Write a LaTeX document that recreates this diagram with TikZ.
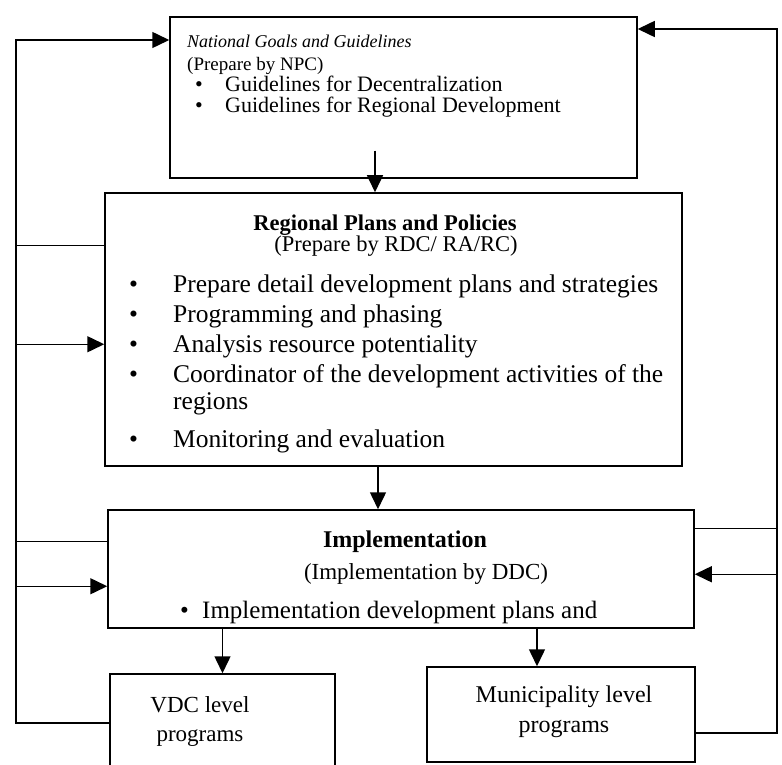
\documentclass[tikz,border=0pt]{standalone}
\usepackage{fontspec}
\setmainfont{Liberation Serif}
\usetikzlibrary{arrows.meta, positioning}

\newcommand{\bul}[1]{\makebox[#1][l]{\textbullet}}

\begin{document}
\begin{tikzpicture}[
  x=1pt, y=-1pt,
  box/.style={draw=black, line width=1.5pt, inner sep=0pt},
  txt/.style={inner sep=0pt, align=left, anchor=north west},
  lbl/.style={inner sep=0pt, align=center},
  arr/.style={-{Triangle[length=17pt, width=16pt]}, line width=1.5pt},
  wire/.style={line width=1.5pt}
]
  \useasboundingbox (0,0) rectangle (782,765);

  % ========== BOXES ==========
  \node[box, minimum width=467pt, minimum height=161pt] (nat) at (403.5, 97.5) {};
  \node[box, minimum width=577pt, minimum height=273pt] (reg) at (393.5, 329.5) {};
  \node[box, minimum width=586pt, minimum height=118pt] (imp) at (401, 569) {};
  \node[box, minimum width=225pt, minimum height=98pt] (vdc) at (222.5, 723) {};
  \node[box, minimum width=268pt, minimum height=95pt] (mun) at (561, 714.5) {};

  % ========== TEXTS ==========
  \node[txt, font=\fontsize{22}{21}\selectfont] (nattxt) at (187, 35) {
    {\fontsize{18}{21}\selectfont\itshape National Goals and Guidelines}\\[2pt]
    {\fontsize{19}{21}\selectfont (Prepare by NPC)}\\
    \hspace*{8pt}\bul{30pt}Guidelines for Decentralization\\
    \hspace*{8pt}\bul{30pt}Guidelines for Regional Development
  };

  \node[lbl, font=\fontsize{22.5}{21}\selectfont] (regttl) at (385, 236)
    {\textbf{Regional Plans and Policies}\\ \hspace*{22pt}(Prepare by RDC/ RA/RC)};
  \node[txt, font=\fontsize{25.5}{30}\selectfont] (reglist) at (129, 275) {
    \bul{44pt}Prepare detail development plans and strategies\\
    \bul{44pt}Programming and phasing\\
    \bul{44pt}Analysis resource potentiality\\
    \bul{44pt}Coordinator of the development activities of the\\[-3pt]
    \hspace*{44pt}regions\\[8pt]
    \bul{44pt}Monitoring and evaluation
  };

  \node[lbl, font=\fontsize{24}{24}\selectfont\bfseries] (impttl) at (405, 542) {Implementation};
  \node[lbl, font=\fontsize{23}{23}\selectfont] (impsub) at (426, 574) {(Implementation by DDC)};
  \node[lbl, anchor=west, font=\fontsize{25}{25}\selectfont] (implist) at (180, 612)
    {\bul{22pt}Implementation development plans and};

  \node[lbl, font=\fontsize{23}{29}\selectfont] (vdclbl) at (200, 721) {VDC level\\programs};
  \node[lbl, font=\fontsize{24}{30}\selectfont] (munlbl) at (564, 712) {Municipality level\\programs};

  % ======== ARROWS: DOWNWARD ========
  \coordinate (n2r) at ([xshift=-28.5pt, yshift=28pt]nat.south);
  \draw[arr] (n2r) -- (n2r |- reg.north);
  \coordinate (r2i) at ([xshift=-15.5pt]reg.south);
  \draw[arr] (r2i) -- (r2i |- imp.north);
  \draw[arr] (vdc.north |- imp.south) -- (vdc.north);
  \coordinate (i2m) at ([xshift=-24pt]mun.north);
  \draw[arr] (i2m |- imp.south) -- (i2m);

  % ======== FEEDBACK: LEFT ========
  \coordinate (lbus) at (16, 40);
  \draw[arr] (vdc.west) -| (lbus) -- (lbus -| nat.west);
  \coordinate (rl1) at ([yshift=-53pt]reg.north west);
  \draw[wire] (rl1) -- (rl1 -| lbus);
  \coordinate (rl2) at ([yshift=-152pt]reg.north west);
  \draw[arr] (rl2 -| lbus) -- (rl2);
  \coordinate (il1) at ([yshift=-32pt]imp.north west);
  \draw[wire] (il1) -- (il1 -| lbus);
  \coordinate (il2) at ([yshift=-77pt]imp.north west);
  \draw[arr] (il2 -| lbus) -- (il2);

  % ======== FEEDBACK: RIGHT ========
  \coordinate (rbus) at (777, 29);
  \coordinate (ml) at ([yshift=-18.5pt]mun.east);
  \draw[arr] (ml) -| (rbus) -- (rbus -| nat.east);
  \coordinate (ir1) at ([yshift=-19pt]imp.north east);
  \draw[wire] (ir1) -- (ir1 -| rbus);
  \coordinate (ir2) at ([yshift=-65pt]imp.north east);
  \draw[arr] (ir2 -| rbus) -- (ir2);

\end{tikzpicture}
\end{document}
